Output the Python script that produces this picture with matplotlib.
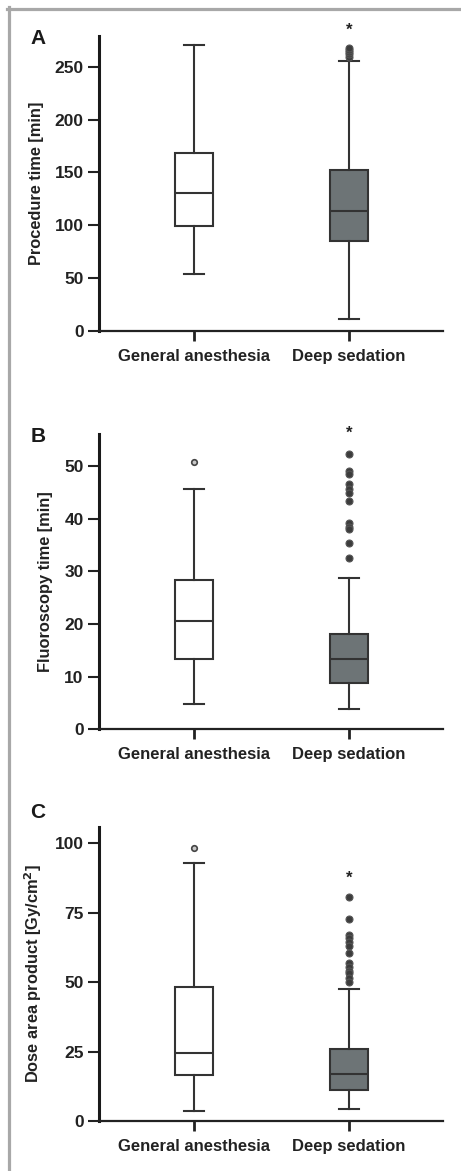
import numpy as np
import matplotlib
matplotlib.use("Agg")
import matplotlib.pyplot as plt
from matplotlib.lines import Line2D

plt.rcParams["font.family"] = ["Liberation Sans", "DejaVu Sans"]
plt.rcParams["font.weight"] = "bold"

groups = ["General anesthesia", "Deep sedation"]

# (whislo, q1, med, q3, whishi) per group
proc_ga = [53.6, 99.6, 130.8, 168.4, 270.0]
proc_ds = [11.0, 85.1, 113.5, 152.6, 255.4]
proc_ga_out = []
proc_ds_out = [259.5, 261.5, 263.5, 265.5, 267.5]

fluo_ga = [4.8, 13.3, 20.6, 28.3, 45.6]
fluo_ds = [3.8, 8.7, 13.3, 18.1, 28.8]
fluo_ga_out = [50.7]
fluo_ds_out = [52.3, 49.0, 48.4, 46.5, 45.7, 44.9, 43.4, 39.1, 38.4, 38.0, 35.3, 32.6]

dap_ga = [3.6, 16.6, 24.6, 48.3, 92.8]
dap_ds = [4.2, 11.2, 16.8, 25.8, 47.4]
dap_ga_out = [98.2]
dap_ds_out = [80.7, 72.6, 66.9, 65.8, 64.6, 63.1, 60.6, 56.8, 55.3, 54.1, 53.2, 51.4, 50.2]

panels = [
    ("A", "Procedure time [min]", proc_ga, proc_ds, proc_ga_out, proc_ds_out,
     [0, 50, 100, 150, 200, 250], 279, 284),
    ("B", "Fluoroscopy time [min]", fluo_ga, fluo_ds, fluo_ga_out, fluo_ds_out,
     [0, 10, 20, 30, 40, 50], 56, 56.2),
    ("C", "Dose area product [Gy/cm$^\\mathbf{2}$]", dap_ga, dap_ds, dap_ga_out, dap_ds_out,
     [0, 25, 50, 75, 100], 106, 87.6),
]

# axes rectangles (fig fraction) and panel letter y (pixels from top)
rects = [
    [0.2148, 0.7173, 0.7462, 0.2520],
    [0.2148, 0.3772, 0.7462, 0.2519],
    [0.2148, 0.0427, 0.7462, 0.2513],
]
letter_y = [39, 437, 813]

W, H = 461, 1171
fig = plt.figure(figsize=(W / 100, H / 100), dpi=100)

line_c = "#333333"
ds_fill = "#6d7476"

for (letter, ylab, ga, ds, ga_out, ds_out, yticks, ytop, star_y), r, ly in zip(panels, rects, letter_y):
    ax = fig.add_axes(r)
    stats = []
    for s, out in ((ga, ga_out), (ds, ds_out)):
        stats.append(dict(whislo=s[0], q1=s[1], med=s[2], q3=s[3], whishi=s[4], fliers=out))
    bp = ax.bxp(stats, positions=[1, 2], widths=0.245, patch_artist=True,
                showfliers=True, capwidths=0.13,
                boxprops=dict(edgecolor=line_c, linewidth=1.5),
                whiskerprops=dict(color=line_c, linewidth=1.5),
                capprops=dict(color=line_c, linewidth=1.5),
                medianprops=dict(color=line_c, linewidth=1.5))
    bp["boxes"][0].set_facecolor("white")
    bp["boxes"][1].set_facecolor(ds_fill)
    bp["fliers"][0].set(marker="o", markersize=4, markerfacecolor="#c8c8c8",
                        markeredgecolor="#444444", markeredgewidth=1.2)
    bp["fliers"][1].set(marker="o", markersize=5, markerfacecolor="#3c3c3c",
                        markeredgecolor="#555555", markeredgewidth=0.8)
    ax.text(2, star_y, "*", ha="center", va="center", fontsize=12, color="#222222")

    ax.set_xlim(0.387, 2.606)
    ax.set_ylim(0, ytop)
    ax.set_yticks(yticks)
    ax.set_xticks([1, 2])
    ax.set_xticklabels(groups, fontsize=12, fontweight="bold", color="#222222")
    ax.tick_params(axis="y", labelsize=12.5, length=8, width=1.5, pad=3, colors="#222222")
    ax.tick_params(axis="x", length=7, width=2, pad=6, colors="#222222")
    for lab in ax.get_yticklabels():
        lab.set_fontweight("bold")
    ax.set_ylabel(ylab, fontsize=11.8, fontweight="bold", color="#222222", labelpad=8)
    ax.spines["top"].set_visible(False)
    ax.spines["right"].set_visible(False)
    ax.spines["left"].set_linewidth(2.2)
    ax.spines["bottom"].set_linewidth(1.6)
    ax.spines["left"].set_color("#1a1a1a")
    ax.spines["bottom"].set_color("#222222")
    fig.text(38 / W, 1 - ly / H, letter, fontsize=15, fontweight="bold",
             ha="center", va="center", color="#1a1a1a")

# grey frame on top and left
fig.add_artist(Line2D([7 / W, 1], [1 - 8.5 / H] * 2, color="#a8a8a8", lw=2.3,
                      transform=fig.transFigure))
fig.add_artist(Line2D([8.5 / W] * 2, [0, 1 - 7 / H], color="#a8a8a8", lw=2.3,
                      transform=fig.transFigure))

fig.savefig("out.png", dpi=100)
